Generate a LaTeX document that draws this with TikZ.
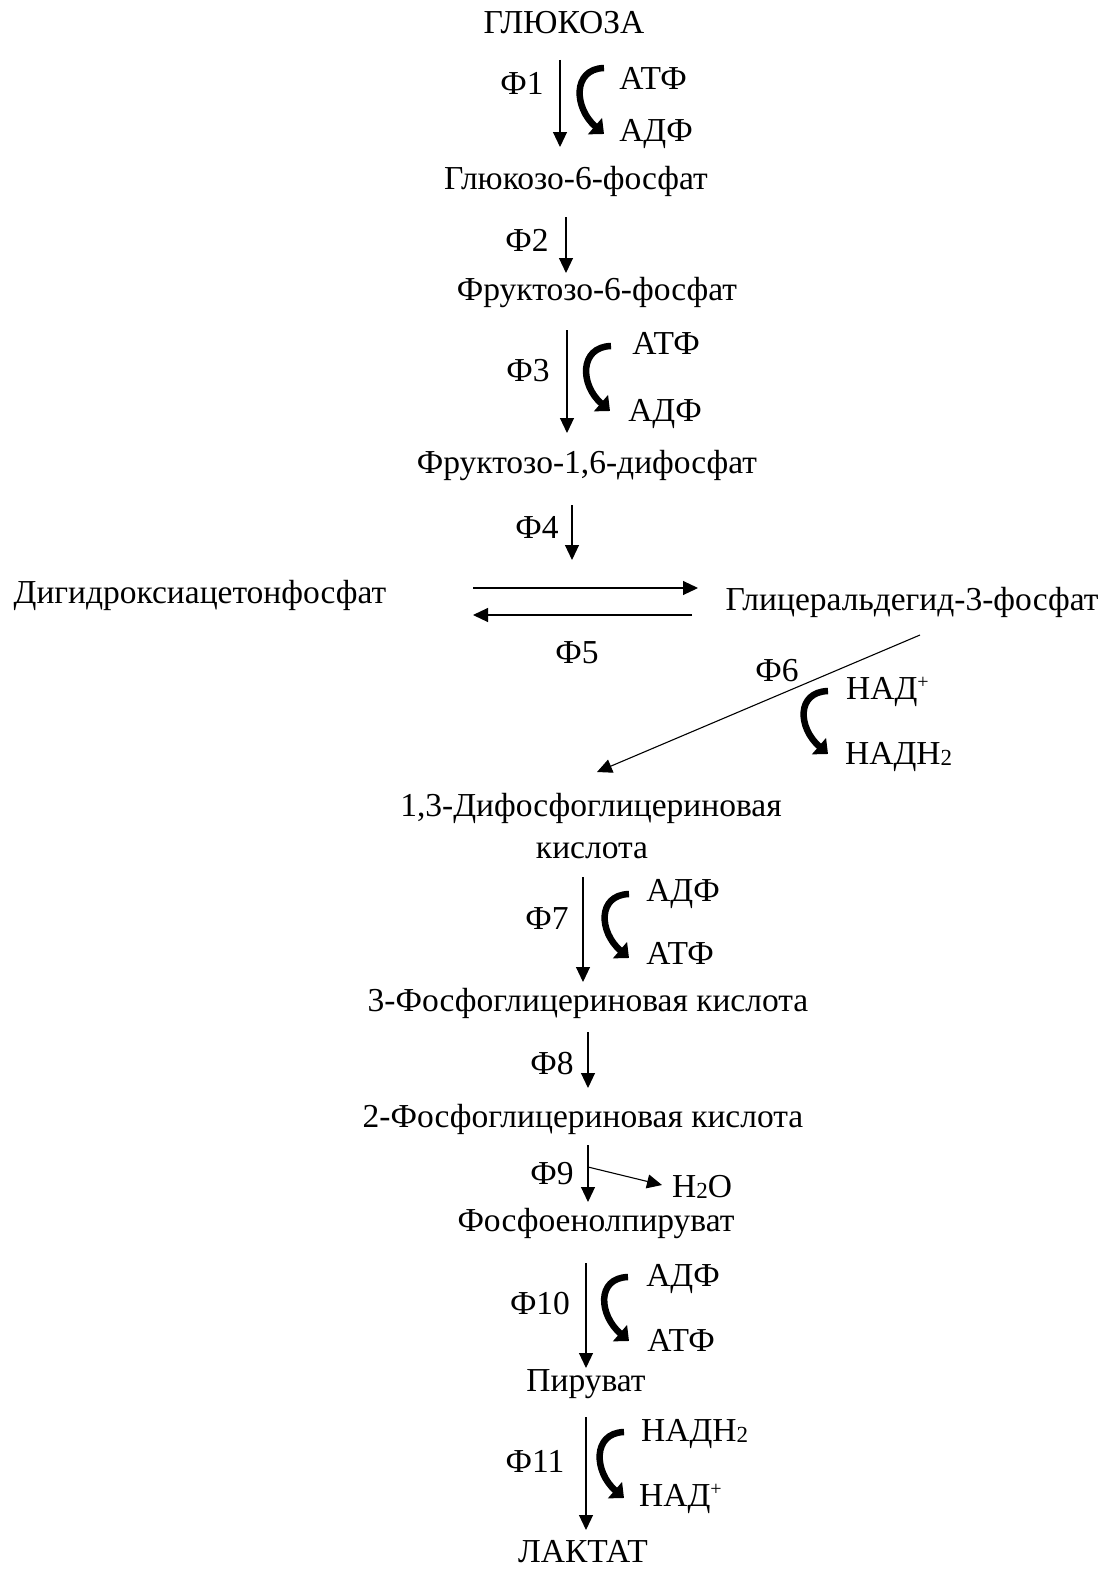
\documentclass[tikz,border=0pt]{standalone}
\usepackage{fontspec}
\setmainfont{Liberation Serif}
\usetikzlibrary{arrows.meta}
\newcommand{\subtwo}{\raisebox{-1pt}{\fontsize{23}{23}\selectfont 2}}
\newcommand{\supplus}{\raisebox{11pt}{\fontsize{20}{20}\selectfont +}}
\tikzset{
  lbl/.style={inner sep=0pt, anchor=base, font=\fontsize{33.5}{36}\selectfont},
  lblw/.style={lbl, anchor=base west},
  rx/.style={line width=1.1pt, -{Triangle[length=15pt,width=14pt]}},
  cur/.style={line width=6.5pt, -{Triangle[length=12pt,width=21pt]}}
}
\begin{document}
\begin{tikzpicture}[x=1pt,y=-1pt]
\useasboundingbox (0,0) rectangle (1110,1571);
% main chain
\node[lbl] (glc) at (564,34) {ГЛЮКОЗА};
\node[lbl] (g6p) at (576,189) {Глюкозо-6-фосфат};
\node[lbl] (f6p) at (597,300) {Фруктозо-6-фосфат};
\node[lbl] (fbp) at (587,473) {Фруктозо-1,6-дифосфат};
\node[lbl] (dhap) at (200,603) {Дигидроксиацетонфосфат};
\node[lbl] (gap) at (912,610) {Глицеральдегид-3-фосфат};
\node[lbl] (bpg) at (591,816) {1,3-Дифосфоглицериновая};
\node[lbl] (bpgb) at (592,858) {кислота};
\node[lbl] (pg3) at (588,1011) {3-Фосфоглицериновая кислота};
\node[lbl] (pg2) at (583,1127) {2-Фосфоглицериновая кислота};
\node[lbl] (pep) at (596,1231) {Фосфоенолпируват};
\node[lbl] (pyr) at (586,1391) {Пируват};
\node[lbl] (lac) at (583,1562) {ЛАКТАТ};
% enzyme labels
\node[lbl] (f1) at (522,94) {Ф1};
\node[lbl] (f2) at (527,251) {Ф2};
\node[lbl] (f3) at (528,381) {Ф3};
\node[lbl] (f4) at (537,538) {Ф4};
\node[lbl] (f5) at (577,663) {Ф5};
\node[lbl] (f6) at (777,681) {Ф6};
\node[lbl] (f7) at (547,929) {Ф7};
\node[lbl] (f8) at (552,1074) {Ф8};
\node[lbl] (f9) at (552,1184) {Ф9};
\node[lbl] (f10) at (540,1314) {Ф10};
\node[lbl] (f11) at (535,1472) {Ф11};
% cofactors
\node[lbl] (atp1) at (653,89) {АТФ};
\node[lbl] (adp1) at (656,141) {АДФ};
\node[lbl] (atp3) at (666,354) {АТФ};
\node[lbl] (adp3) at (665,421) {АДФ};
\node[lblw] (nad6) at (846,699) {НАД\supplus};
\node[lblw] (nadh6) at (845,764) {НАДН\subtwo};
\node[lbl] (adp7) at (683,901) {АДФ};
\node[lbl] (atp7) at (680,964) {АТФ};
\node[lblw] (h2o) at (672,1197) {Н\subtwo О};
\node[lbl] (adp10) at (683,1286) {АДФ};
\node[lbl] (atp10) at (681,1351) {АТФ};
\node[lblw] (nadh11) at (641,1441) {НАДН\subtwo};
\node[lblw] (nad11) at (639,1506) {НАД\supplus};
% arrow end points
\coordinate (a1s) at (560,60);   \coordinate (a1e) at (560,147);
\coordinate (a2s) at (566,217);  \coordinate (a2e) at (566,273);
\coordinate (a3s) at (567,330);  \coordinate (a3e) at (567,433);
\coordinate (a4s) at (572,505);  \coordinate (a4e) at (572,560);
\coordinate (a5s) at (473,588);  \coordinate (a5e) at (698,588);
\coordinate (a5bs) at (692,615); \coordinate (a5be) at (473,615);
\coordinate (a6s) at (920,635);  \coordinate (a6e) at (597,772);
\coordinate (a7s) at (583,877);  \coordinate (a7e) at (583,982);
\coordinate (a8s) at (588,1032); \coordinate (a8e) at (588,1088);
\coordinate (a9s) at (588,1145); \coordinate (a9e) at (588,1202);
\coordinate (a9w) at (588,1167); \coordinate (a9h) at (662,1185);
\coordinate (a10s) at (586,1263); \coordinate (a10e) at (586,1368);
\coordinate (a11s) at (586,1417); \coordinate (a11e) at (586,1530);
% straight arrows
\draw[rx] (a1s) -- (a1e);
\draw[rx] (a2s) -- (a2e);
\draw[rx] (a3s) -- (a3e);
\draw[rx] (a4s) -- (a4e);
\draw[rx] (a5s) -- (a5e);
\draw[rx] (a5bs) -- (a5be);
\draw[rx] (a6s) -- (a6e);
\draw[rx] (a7s) -- (a7e);
\draw[rx] (a8s) -- (a8e);
\draw[rx] (a9s) -- (a9e);
\draw[rx] (a9w) -- (a9h);
\draw[rx] (a10s) -- (a10e);
\draw[rx] (a11s) -- (a11e);
% curved cofactor arrows
\coordinate (c1s) at (604,68);   \coordinate (c1e) at (604,134);
\coordinate (c3s) at (611,346);  \coordinate (c3e) at (610,411);
\coordinate (c6s) at (828,691);  \coordinate (c6e) at (828,754);
\coordinate (c7s) at (629,894);  \coordinate (c7e) at (629,958);
\coordinate (c10s) at (628,1277); \coordinate (c10e) at (629,1341);
\coordinate (c11s) at (624,1432); \coordinate (c11e) at (624,1498);
\foreach \c in {1,3,6,7,10,11}{
  \draw[cur] (c\c s) .. controls +(-32,1) and +(-30,-26) .. (c\c e);
}
\end{tikzpicture}
\end{document}
